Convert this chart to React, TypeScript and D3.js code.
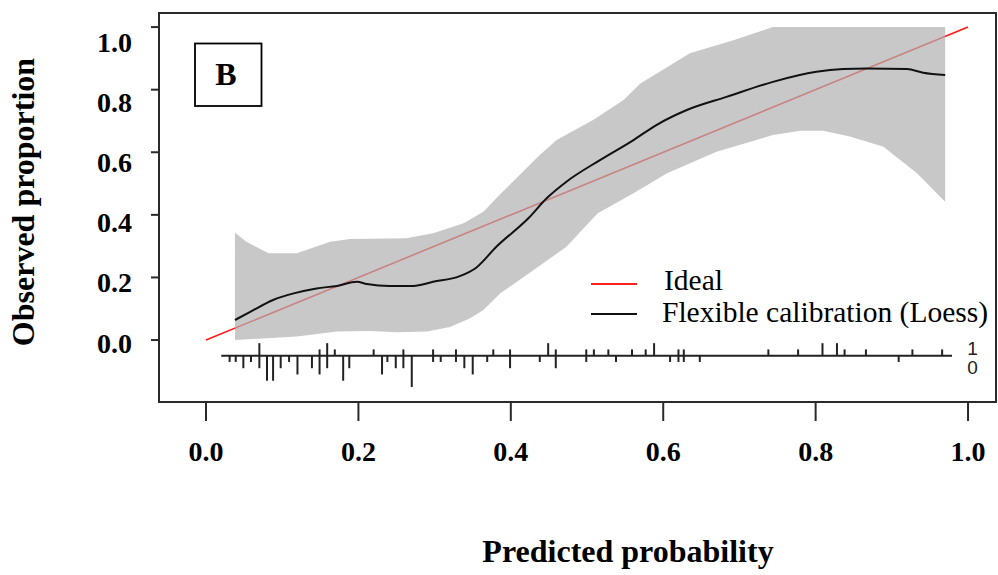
import React from 'react';
import * as d3 from 'd3';

// axis ticks
const xTicks = [0, 0.2, 0.4, 0.6, 0.8, 1.0];
const yTicks = [0, 0.2, 0.4, 0.6, 0.8, 1.0];

// flexible calibration (loess) curve
const loessX = [0.038, 0.058, 0.088, 0.115, 0.145, 0.172, 0.198, 0.211, 0.241, 0.272, 0.298, 0.333, 0.355, 0.381, 0.423, 0.447, 0.473, 0.517, 0.561, 0.591, 0.631, 0.683, 0.744, 0.801, 0.836, 0.867, 0.920, 0.941, 0.970];
const loessY = [0.064, 0.090, 0.128, 0.149, 0.165, 0.173, 0.186, 0.179, 0.173, 0.173, 0.186, 0.204, 0.232, 0.298, 0.389, 0.453, 0.506, 0.575, 0.639, 0.687, 0.735, 0.777, 0.825, 0.857, 0.866, 0.868, 0.866, 0.854, 0.847];

// confidence band
const upperX = [0.038, 0.053, 0.082, 0.119, 0.163, 0.189, 0.263, 0.298, 0.338, 0.364, 0.386, 0.438, 0.460, 0.508, 0.548, 0.570, 0.635, 0.692, 0.744, 0.970];
const upperY = [0.343, 0.314, 0.277, 0.277, 0.314, 0.323, 0.325, 0.341, 0.373, 0.410, 0.466, 0.591, 0.639, 0.703, 0.767, 0.820, 0.916, 0.958, 1.0, 1.0];
const lowerX = [0.038, 0.119, 0.172, 0.215, 0.250, 0.290, 0.320, 0.346, 0.364, 0.386, 0.430, 0.473, 0.514, 0.561, 0.605, 0.670, 0.744, 0.780, 0.810, 0.845, 0.889, 0.933, 0.970];
const lowerY = [0.0, 0.011, 0.027, 0.029, 0.025, 0.027, 0.042, 0.069, 0.096, 0.149, 0.224, 0.298, 0.405, 0.469, 0.533, 0.602, 0.655, 0.669, 0.669, 0.650, 0.618, 0.533, 0.442];

// rug of predictions: counts of events (1) above, non-events (0) below
const rugX = [0.031, 0.039, 0.049, 0.059, 0.070, 0.080, 0.088, 0.098, 0.109, 0.120, 0.139, 0.149, 0.159, 0.169, 0.180, 0.188, 0.220, 0.231, 0.238, 0.249, 0.259, 0.270, 0.298, 0.308, 0.328, 0.339, 0.350, 0.369, 0.377, 0.399, 0.438, 0.449, 0.459, 0.499, 0.509, 0.528, 0.538, 0.559, 0.577, 0.588, 0.609, 0.620, 0.627, 0.648, 0.738, 0.777, 0.809, 0.828, 0.838, 0.866, 0.909, 0.927, 0.966];
const rugEvents = [0, 0, 0, 0, 2, 0, 0, 0, 0, 0, 0, 1, 2, 1, 0, 0, 1, 0, 0, 0, 1, 0, 1, 0, 1, 0, 0, 0, 1, 1, 0, 2, 1, 1, 1, 1, 0, 1, 1, 2, 0, 1, 1, 0, 1, 1, 2, 2, 1, 1, 0, 1, 1];
const rugNonEvents = [1, 1, 2, 1, 2, 4, 4, 2, 1, 3, 2, 3, 2, 0, 4, 2, 0, 3, 1, 2, 2, 5, 1, 1, 1, 2, 3, 1, 0, 2, 1, 0, 2, 1, 0, 0, 1, 0, 0, 0, 1, 1, 1, 1, 0, 0, 0, 0, 0, 0, 1, 0, 0];
const rugLevel = -0.05;
const rugExtent = [0.02, 0.979];

const legendItems = ['Ideal', 'Flexible calibration (Loess)'];
const legendColors = ['#ff2020', '#111'];

const serif = "'Liberation Serif', 'Times New Roman', serif";

export default function App() {
  const W = 998, H = 575;
  const left = 159, right = 996, top = 13, bottom = 402;

  const x = d3.scaleLinear().domain([-0.0617, 1.0367]).range([left, right]);
  const y = d3.scaleLinear().domain([-0.198, 1.045]).range([bottom, top]);
  // tick labels in the figure sit slightly below their ticks, more so at the top
  const yLab = d3.scaleLinear().domain([0, 1]).range([y(0) + 3, y(1) + 15]);
  const rugLen = d3.scaleLinear().domain([0, 5]).range([0, 0.1]);

  const line = d3.line<[number, number]>().x(d => x(d[0])).y(d => y(d[1]));

  const loessPts = loessX.map((v, i) => [v, loessY[i]] as [number, number]);
  const bandPts = [
    ...upperX.map((v, i) => [v, upperY[i]] as [number, number]),
    ...lowerX.map((v, i) => [v, lowerY[i]] as [number, number]).reverse(),
  ];

  return (
    <svg width={W} height={H} style={{ position: 'absolute', left: 0, top: 0, background: '#fff' }}>
      {/* ideal line, under the band */}
      <path d={line([[0, 0], [1, 1]]) || ''} stroke="#ff1a1a" strokeWidth={1.6} fill="none" />
      <path d={(line(bandPts) || '') + 'Z'} fill="#b0b0b0" fillOpacity={0.7} stroke="none" />
      <path d={line.curve(d3.curveMonotoneX)(loessPts) || ''} stroke="#111" strokeWidth={2} fill="none" />

      {/* rug */}
      <line x1={x(rugExtent[0])} x2={x(rugExtent[1])} y1={y(rugLevel)} y2={y(rugLevel)} stroke="#222" strokeWidth={2} />
      {rugX.map((v, i) => (
        <g key={i}>
          {rugEvents[i] > 0 && (
            <line x1={x(v)} x2={x(v)} y1={y(rugLevel)} y2={y(rugLevel + rugLen(rugEvents[i]))} stroke="#222" strokeWidth={2} />
          )}
          {rugNonEvents[i] > 0 && (
            <line x1={x(v)} x2={x(v)} y1={y(rugLevel)} y2={y(rugLevel - rugLen(rugNonEvents[i]))} stroke="#222" strokeWidth={2} />
          )}
        </g>
      ))}
      <text x={x(1.006)} y={y(rugLevel) - 1} fontFamily="'Liberation Sans', Arial, sans-serif" fontSize={19} fill="#222" textAnchor="middle">1</text>
      <text x={x(1.006)} y={y(rugLevel) + 18} fontFamily="'Liberation Sans', Arial, sans-serif" fontSize={19} fill="#222" textAnchor="middle">0</text>

      {/* legend */}
      {legendItems.map((t, i) => (
        <g key={t}>
          <line x1={591} x2={637} y1={284 + i * 30} y2={284 + i * 30} stroke={legendColors[i]} strokeWidth={2} />
          <text x={i === 0 ? 664 : 662} y={290 + i * 32} fontFamily={serif} fontSize={29.5} fill="#000">{t}</text>
        </g>
      ))}

      {/* panel label */}
      <rect x={195} y={43.5} width={66.5} height={62.5} fill="none" stroke="#000" strokeWidth={1.8} />
      <text x={226} y={85} textAnchor="middle" fontFamily={serif} fontWeight="bold" fontSize={32}>B</text>

      {/* frame */}
      <rect x={left} y={top} width={right - left} height={bottom - top} fill="none" stroke="#2a2a2a" strokeWidth={2} />

      {/* x axis */}
      {xTicks.map(t => (
        <g key={t}>
          <line x1={x(t)} x2={x(t)} y1={bottom} y2={bottom + 19} stroke="#2a2a2a" strokeWidth={2} />
          <text x={x(t)} y={bottom + 59} textAnchor="middle" fontFamily={serif} fontWeight="bold" fontSize={28}>{d3.format('.1f')(t)}</text>
        </g>
      ))}

      {/* y axis */}
      {yTicks.map(t => (
        <g key={t}>
          <line x1={left - 8} x2={left} y1={y(t)} y2={y(t)} stroke="#2a2a2a" strokeWidth={2} />
          <text x={132} y={yLab(t) + 9.5} textAnchor="end" fontFamily={serif} fontWeight="bold" fontSize={28}>{d3.format('.1f')(t)}</text>
        </g>
      ))}

      <text x={628} y={562} textAnchor="middle" fontFamily={serif} fontWeight="bold" fontSize={32}>Predicted probability</text>
      <text transform="translate(34,202) rotate(-90)" textAnchor="middle" fontFamily={serif} fontWeight="bold" fontSize={32}>Observed proportion</text>
    </svg>
  );
}
